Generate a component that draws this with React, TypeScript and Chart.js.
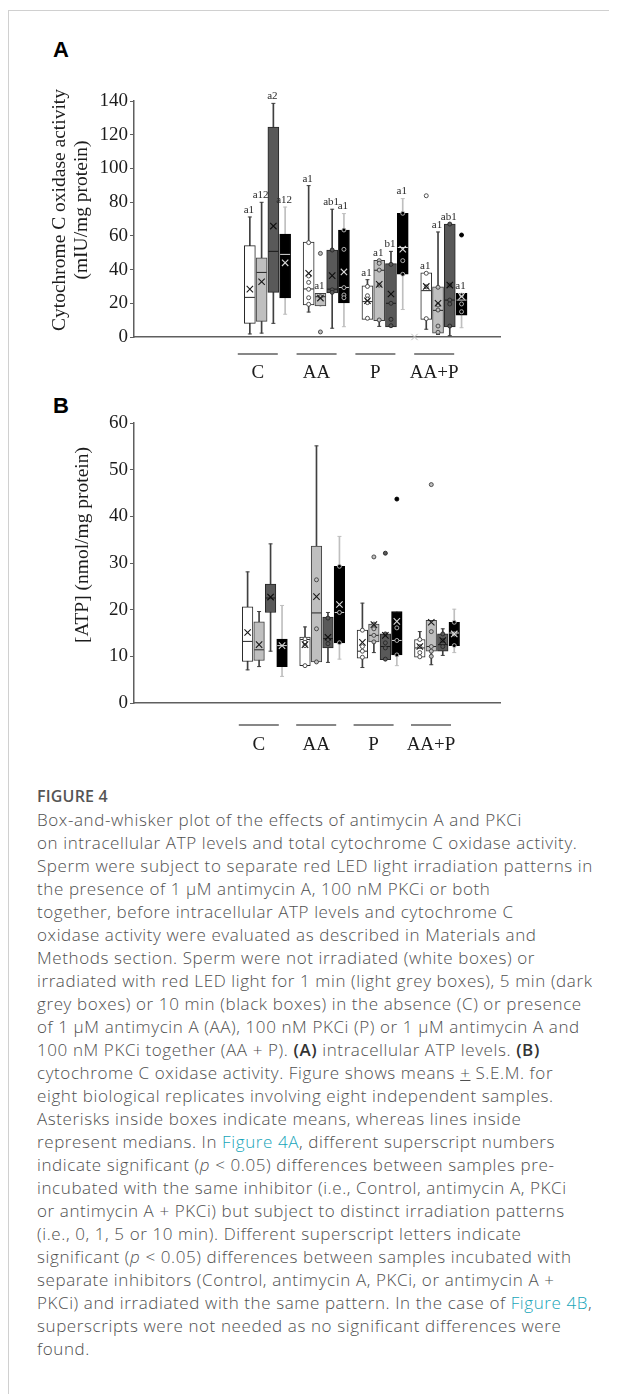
import React, { useEffect, useRef } from 'react';
import { Chart, registerables } from 'chart.js';

Chart.register(...registerables);

// ---------- shared categories ----------
const groups = ['C', 'AA', 'P', 'AA+P'];
const seriesNames = ['0 min', '1 min', '5 min', '10 min'];

// ---------- Panel A: cytochrome C oxidase activity (rows = series, cols = groups) ----------
const aLow = [
  [1.8, 14.8, 10.5, 4.6],
  [2.3, 18.4, 6.3, 1.5],
  [8.1, 5.2, 6.0, 0.8],
  [13.5, 6.1, 16.3, 5.5],
];
const aQ1 = [
  [8.1, 19.0, 10.5, 10.5],
  [9.3, 18.4, 9.7, 2.2],
  [26.5, 26.2, 6.0, 6.0],
  [23.2, 20.2, 37.3, 13.0],
];
const aMedian = [
  [23.5, 28.5, 21.0, 27.5],
  [38.3, 23.9, 39.6, 15.8],
  [50.8, 28.4, 20.0, 21.9],
  [49.0, 29.4, 53.1, 21.9],
];
const aQ3 = [
  [54.2, 56.3, 30.3, 38.0],
  [47.0, 25.9, 45.5, 29.8],
  [124.5, 51.6, 43.5, 67.0],
  [61.1, 63.5, 73.4, 25.9],
];
const aHigh = [
  [71.2, 89.8, 34.0, 38.0],
  [79.9, 25.9, 45.5, 62.3],
  [138.6, 75.8, 50.8, 67.0],
  [77.1, 73.2, 82.1, 25.9],
];
const aMean = [
  [28.4, 37.8, 21.5, 30.0],
  [32.8, 23.1, 31.2, 20.0],
  [65.8, 36.4, 25.5, 30.8],
  [44.0, 38.6, 52.1, 24.1],
];
const aInner = [
  [[], [56.0, 36.2, 32.4, 28.3, 23.3, 19.4], [30.0, 24.5, 22.5, 20.4, 11.1], [37.8, 29.8, 10.9]],
  [[], [23.9], [45.3, 43.7, 39.7, 30.8, 10.1], [29.5, 19.0, 16.0, 6.5, 2.8]],
  [[], [51.6, 28.0, 26.5], [43.1, 20.0, 10.5, 6.7], [67.0, 30.8, 21.9, 19.6, 6.5]],
  [[], [63.5, 52.0, 29.3, 24.9, 23.3], [73.4, 45.3, 37.2], [24.9, 19.6, 15.0]],
];
const aOutliers = [
  [[], [], [], [83.8]],
  [[], [49.6, 3.0], [], []],
  [[], [], [], []],
  [[], [], [], [60.5]],
];
const aSignificance = [
  ['a1', 'a1', 'a1', 'a1'],
  ['a12', 'a1', 'a1', 'a1'],
  ['a2', 'ab1', 'b1', 'ab1'],
  ['a12', 'a1', 'a1', 'a1'],
];
// mean marker of an empty fifth series (drawn on the axis)
const aBlankMean = [null, null, 0, null];
const aTicks = [0, 20, 40, 60, 80, 100, 120, 140];
const aTitle = ['Cytochrome C oxidase activity', '(mIU/mg protein)'];

// ---------- Panel B: ATP (rows = series, cols = groups) ----------
const bLow = [
  [7.1, 8.0, 7.6, 9.8],
  [7.8, 8.8, 10.8, 8.2],
  [11.1, 8.7, 9.3, 10.2],
  [5.7, 9.4, 8.0, 10.8],
];
const bQ1 = [
  [8.9, 8.0, 9.6, 9.8],
  [9.1, 8.8, 13.1, 11.1],
  [19.4, 11.8, 9.3, 11.1],
  [7.8, 12.9, 10.3, 12.3],
];
const bMedian = [
  [13.2, 13.6, 11.1, 11.8],
  [11.4, 19.3, 14.5, 12.1],
  [22.5, 13.8, 12.1, 12.5],
  [12.3, 19.4, 13.4, 15.0],
];
const bQ3 = [
  [20.6, 14.1, 15.6, 13.6],
  [17.4, 33.6, 16.9, 17.7],
  [25.5, 18.4, 14.8, 14.8],
  [13.7, 29.3, 19.6, 17.3],
];
const bHigh = [
  [28.1, 16.3, 21.4, 15.3],
  [19.6, 55.1, 16.9, 17.7],
  [34.1, 19.4, 14.8, 15.9],
  [20.9, 35.7, 19.6, 20.1],
];
const bMean = [
  [15.1, 12.5, 13.0, 12.1],
  [12.5, 22.8, 16.8, 17.3],
  [22.7, 14.1, 14.5, 13.4],
  [12.3, 21.1, 17.5, 14.8],
];
const bInner = [
  [[], [13.7, 13.0, 12.3, 8.0], [15.6, 12.1, 11.1, 9.8], [13.6, 12.1, 10.8, 9.9]],
  [[], [26.4, 15.9, 8.8], [16.9, 15.9, 14.5, 13.1], [15.3, 12.1, 11.1, 10.0]],
  [[], [18.2, 13.6, 12.7], [14.8, 12.9, 11.8, 9.4], [14.8, 13.4, 12.1]],
  [[], [29.3, 19.4, 12.9], [16.1, 13.4, 10.3], [17.3, 14.8, 12.3]],
];
const bOutliers = [
  [[], [], [], []],
  [[], [], [31.3], [46.8]],
  [[], [], [32.1], []],
  [[], [], [43.7], []],
];
const bBlankMean = [null, null, null, null];
const bTicks = [0, 10, 20, 30, 40, 50, 60];
const bTitle = ['[ATP] (nmol/mg protein)'];

// ---------- styles ----------
const seriesStyle = [
  { fill: '#ffffff', border: '#262626', whisker: '#404040', median: '#262626', mean: '#1a1a1a', point: '#404040' },
  { fill: '#bfbfbf', border: '#404040', whisker: '#404040', median: '#262626', mean: '#1a1a1a', point: '#404040' },
  { fill: '#595959', border: '#262626', whisker: '#404040', median: '#1a1a1a', mean: '#0d0d0d', point: '#262626' },
  { fill: '#000000', border: '#000000', whisker: '#bfbfbf', median: '#d9d9d9', mean: '#d9d9d9', point: '#bfbfbf' },
];
const blankStyle = { mean: '#bfbfbf' };
const AXIS = '#5f5f5f';
const TEXT = '#1c1c1c';
const SERIF = '"Liberation Serif", "Times New Roman", serif';

const slot = (g: number, s: number) => g + (s - 1.5) * 0.2;

type Panel = {
  key: string;
  low: number[][]; q1: number[][]; median: number[][]; q3: number[][]; high: number[][]; mean: number[][];
  inner: number[][][]; outliers: number[][][]; blank: (number | null)[];
  sig?: string[][];
  ticks: number[]; title: string[];
  xMin: number; xMax: number;
  thick: number;
  width: number; height: number; padTop: number; padRight: number; yWidth: number; xHeight: number;
  titleX: number[]; titleY: number;
  underlineGap: number; labelGap: number; labelShift: number;
};

function buildDatasets(p: Panel) {
  const ds: any[] = [];
  seriesStyle.forEach((st, s) => {
    const name = seriesNames[s];
    ds.push({
      type: 'bar', label: name + ' whisker', order: 7, grouped: false, barThickness: 1,
      backgroundColor: st.whisker, borderWidth: 0, clip: false,
      data: groups.map((_, g) => ({ x: slot(g, s), y: [p.low[s][g], p.high[s][g]] })),
    });
    ds.push({
      type: 'bar', label: name, order: 6, grouped: false, barThickness: p.thick,
      backgroundColor: st.fill, borderColor: st.border, borderWidth: 1, borderSkipped: false, clip: false,
      data: groups.map((_, g) => ({ x: slot(g, s), y: [p.q1[s][g], p.q3[s][g]] })),
    });
    const caps: any[] = [];
    groups.forEach((_, g) => {
      if (p.low[s][g] < p.q1[s][g]) caps.push({ x: slot(g, s), y: p.low[s][g] });
      if (p.high[s][g] > p.q3[s][g]) caps.push({ x: slot(g, s), y: p.high[s][g] });
    });
    ds.push({
      type: 'scatter', label: name + ' caps', order: 5, pointStyle: 'line', pointRadius: 2,
      borderColor: st.whisker, pointBorderColor: st.whisker, borderWidth: 1, pointBorderWidth: 1, clip: false,
      data: caps,
    });
    ds.push({
      type: 'scatter', label: name + ' median', order: 4, pointStyle: 'line', pointRadius: p.thick / 2 - 0.5,
      borderColor: st.median, pointBorderColor: st.median, borderWidth: 1, pointBorderWidth: 1, clip: false,
      data: groups.map((_, g) => ({ x: slot(g, s), y: p.median[s][g] })),
    });
    const inner: any[] = [];
    groups.forEach((_, g) => p.inner[s][g].forEach((v) => inner.push({ x: slot(g, s), y: v })));
    ds.push({
      type: 'scatter', label: name + ' points', order: 3, pointStyle: 'circle', pointRadius: 2,
      backgroundColor: st.fill, pointBackgroundColor: st.fill,
      borderColor: st.point, pointBorderColor: st.point, borderWidth: 0.9, pointBorderWidth: 0.9, clip: false,
      data: inner,
    });
    const outl: any[] = [];
    groups.forEach((_, g) => p.outliers[s][g].forEach((v) => outl.push({ x: slot(g, s), y: v })));
    ds.push({
      type: 'scatter', label: name + ' outliers', order: 3, pointStyle: 'circle', pointRadius: 2,
      backgroundColor: st.fill, pointBackgroundColor: st.fill,
      borderColor: st.border, pointBorderColor: s === 0 ? st.point : st.border, borderWidth: 0.9, pointBorderWidth: 0.9, clip: false,
      data: outl,
    });
    ds.push({
      type: 'scatter', label: name + ' mean', order: 1, pointStyle: 'crossRot', pointRadius: 4.5,
      borderColor: st.mean, pointBorderColor: st.mean, borderWidth: 1.1, pointBorderWidth: 1.1, clip: false,
      data: groups.map((_, g) => ({ x: slot(g, s), y: p.mean[s][g] })),
    });
  });
  const blank: any[] = [];
  p.blank.forEach((v, g) => { if (v !== null) blank.push({ x: slot(g, 4), y: v }); });
  ds.push({
    type: 'scatter', label: 'blank mean', order: 1, pointStyle: 'crossRot', pointRadius: 4.5,
    borderColor: blankStyle.mean, pointBorderColor: blankStyle.mean, borderWidth: 1, pointBorderWidth: 1, clip: false,
    data: blank,
  });
  return ds;
}

function overlay(p: Panel) {
  return {
    id: 'overlay_' + p.key,
    afterDraw(chart: any) {
      const { ctx, chartArea } = chart;
      const xs = chart.scales.x;
      const ys = chart.scales.y;
      ctx.save();
      ctx.fillStyle = TEXT;
      ctx.textAlign = 'center';
      ctx.textBaseline = 'middle';
      // y-axis title
      ctx.font = '19.5px ' + SERIF;
      p.title.forEach((line, i) => {
        ctx.save();
        ctx.translate(p.titleX[i], p.titleY);
        ctx.rotate(-Math.PI / 2);
        ctx.fillText(line, 0, 0);
        ctx.restore();
      });
      // group underlines and labels
      ctx.font = '19px ' + SERIF;
      groups.forEach((g, i) => {
        const cx = xs.getPixelForValue(i + p.labelShift);
        ctx.strokeStyle = AXIS;
        ctx.lineWidth = 1.3;
        ctx.beginPath();
        ctx.moveTo(cx - 20, chartArea.bottom + p.underlineGap);
        ctx.lineTo(cx + 20, chartArea.bottom + p.underlineGap);
        ctx.stroke();
        ctx.fillText(g, cx, chartArea.bottom + p.labelGap);
      });
      // significance superscripts
      if (p.sig) {
        ctx.font = '11px ' + SERIF;
        ctx.fillStyle = '#2a2a2a';
        p.sig.forEach((row, s) => {
          row.forEach((txt, g) => {
            const top = Math.max(p.high[s][g], p.q3[s][g]);
            const x = xs.getPixelForValue(slot(g, s)) - 1;
            const y = ys.getPixelForValue(top) - 7;
            ctx.fillText(txt, x, y);
          });
        });
      }
      ctx.restore();
    },
  };
}

function BoxChart({ p, left, top }: { p: Panel; left: number; top: number }) {
  const ref = useRef<HTMLCanvasElement>(null);
  useEffect(() => {
    if (!ref.current) return;
    const chart = new Chart(ref.current, {
      type: 'bar',
      data: { datasets: buildDatasets(p) },
      options: {
        animation: false,
        responsive: false,
        maintainAspectRatio: false,
        events: [],
        layout: { padding: { top: p.padTop, right: p.padRight, left: 0, bottom: 0 } },
        plugins: { legend: { display: false }, tooltip: { enabled: false }, title: { display: false } },
        scales: {
          x: {
            type: 'linear', min: p.xMin, max: p.xMax, offset: false,
            ticks: { display: false },
            grid: { display: false },
            border: { display: true, color: AXIS, width: 1.5 },
            afterFit: (sc: any) => { sc.height = p.xHeight; },
          },
          y: {
            type: 'linear', min: p.ticks[0], max: p.ticks[p.ticks.length - 1],
            afterBuildTicks: (sc: any) => { sc.ticks = p.ticks.map((v) => ({ value: v })); },
            ticks: { color: TEXT, font: { family: SERIF, size: 19 }, padding: 2 },
            grid: { drawOnChartArea: false, drawTicks: true, tickLength: 4, color: AXIS, lineWidth: 1 },
            border: { display: true, color: AXIS, width: 1.5 },
            afterFit: (sc: any) => { sc.width = p.yWidth; },
          },
        },
      } as any,
      plugins: [overlay(p)],
    } as any);
    return () => chart.destroy();
  }, []);
  return (
    <canvas
      ref={ref}
      width={p.width}
      height={p.height}
      style={{ position: 'absolute', left, top, width: p.width, height: p.height }}
    />
  );
}

const panelA: Panel = {
  key: 'A',
  low: aLow, q1: aQ1, median: aMedian, q3: aQ3, high: aHigh, mean: aMean,
  inner: aInner, outliers: aOutliers, blank: aBlankMean, sig: aSignificance,
  ticks: aTicks, title: aTitle,
  xMin: -2.27, xMax: 3.954, thick: 11,
  width: 480, height: 310, padTop: 21, padRight: 20, yWidth: 94, xHeight: 53,
  titleX: [20, 41.7], titleY: 130,
  underlineGap: 17, labelGap: 36, labelShift: -0.165,
};

const panelB: Panel = {
  key: 'B',
  low: bLow, q1: bQ1, median: bMedian, q3: bQ3, high: bHigh, mean: bMean,
  inner: bInner, outliers: bOutliers, blank: bBlankMean,
  ticks: bTicks, title: bTitle,
  xMin: -2.279, xMax: 4.097, thick: 10.6,
  width: 480, height: 365, padTop: 23, padRight: 20, yWidth: 94, xHeight: 62,
  titleX: [43.3], titleY: 145,
  underlineGap: 22, labelGap: 42, labelShift: -0.105,
};

const link = { color: '#17a5b9' };
const boldInline = { fontWeight: 600, color: '#333' };
const captionLines: React.ReactNode[] = [
  'Box-and-whisker plot of the effects of antimycin A and PKCi',
  'on intracellular ATP levels and total cytochrome C oxidase activity.',
  'Sperm were subject to separate red LED light irradiation patterns in',
  'the presence of 1 μM antimycin A, 100 nM PKCi or both',
  'together, before intracellular ATP levels and cytochrome C',
  'oxidase activity were evaluated as described in Materials and',
  'Methods section. Sperm were not irradiated (white boxes) or',
  'irradiated with red LED light for 1 min (light grey boxes), 5 min (dark',
  'grey boxes) or 10 min (black boxes) in the absence (C) or presence',
  'of 1 μM antimycin A (AA), 100 nM PKCi (P) or 1 μM antimycin A and',
  <>100 nM PKCi together (AA + P). <b style={boldInline}>(A)</b> intracellular ATP levels. <b style={boldInline}>(B)</b></>,
  <>cytochrome C oxidase activity. Figure shows means <span style={{ textDecoration: 'underline' }}>+</span> S.E.M. for</>,
  'eight biological replicates involving eight independent samples.',
  'Asterisks inside boxes indicate means, whereas lines inside',
  <>represent medians. In <span style={link}>Figure 4A</span>, different superscript numbers</>,
  <>indicate significant (<i>p</i> {'<'} 0.05) differences between samples pre-</>,
  'incubated with the same inhibitor (i.e., Control, antimycin A, PKCi',
  'or antimycin A + PKCi) but subject to distinct irradiation patterns',
  '(i.e., 0, 1, 5 or 10 min). Different superscript letters indicate',
  <>significant (<i>p</i> {'<'} 0.05) differences between samples incubated with</>,
  'separate inhibitors (Control, antimycin A, PKCi, or antimycin A +',
  <>PKCi) and irradiated with the same pattern. In the case of <span style={link}>Figure 4B</span>,</>,
  'superscripts were not needed as no significant differences were',
  'found.',
];

export default function App() {
  return (
    <div style={{ position: 'relative', width: 609, height: 1386, background: '#fff', overflow: 'hidden' }}>
      <div style={{ position: 'absolute', left: 0, top: 2, right: 0, bottom: 0, borderTop: '1px solid #d0d0d0', borderLeft: '1px solid #d0d0d0' }} />
      <div style={{ position: 'absolute', left: 45, top: 31, font: 'bold 22px "Liberation Sans", Arial, sans-serif', lineHeight: '22px', color: '#000' }}>A</div>
      <div style={{ position: 'absolute', left: 45, top: 387, font: 'bold 22px "Liberation Sans", Arial, sans-serif', lineHeight: '22px', color: '#000' }}>B</div>
      <BoxChart p={panelA} left={32} top={72} />
      <BoxChart p={panelB} left={32} top={392} />
      <div style={{ position: 'absolute', left: 29, top: 777, fontFamily: '"Open Sans", sans-serif', fontWeight: 300, fontSize: 17, letterSpacing: 0.6, lineHeight: '23px', color: '#4f4f4f', whiteSpace: 'nowrap' }}>
        <div style={{ fontWeight: 600, color: '#555', fontSize: 16, letterSpacing: 0.2 }}>FIGURE 4</div>
        {captionLines.map((l, i) => (<div key={i}>{l}</div>))}
      </div>
    </div>
  );
}
